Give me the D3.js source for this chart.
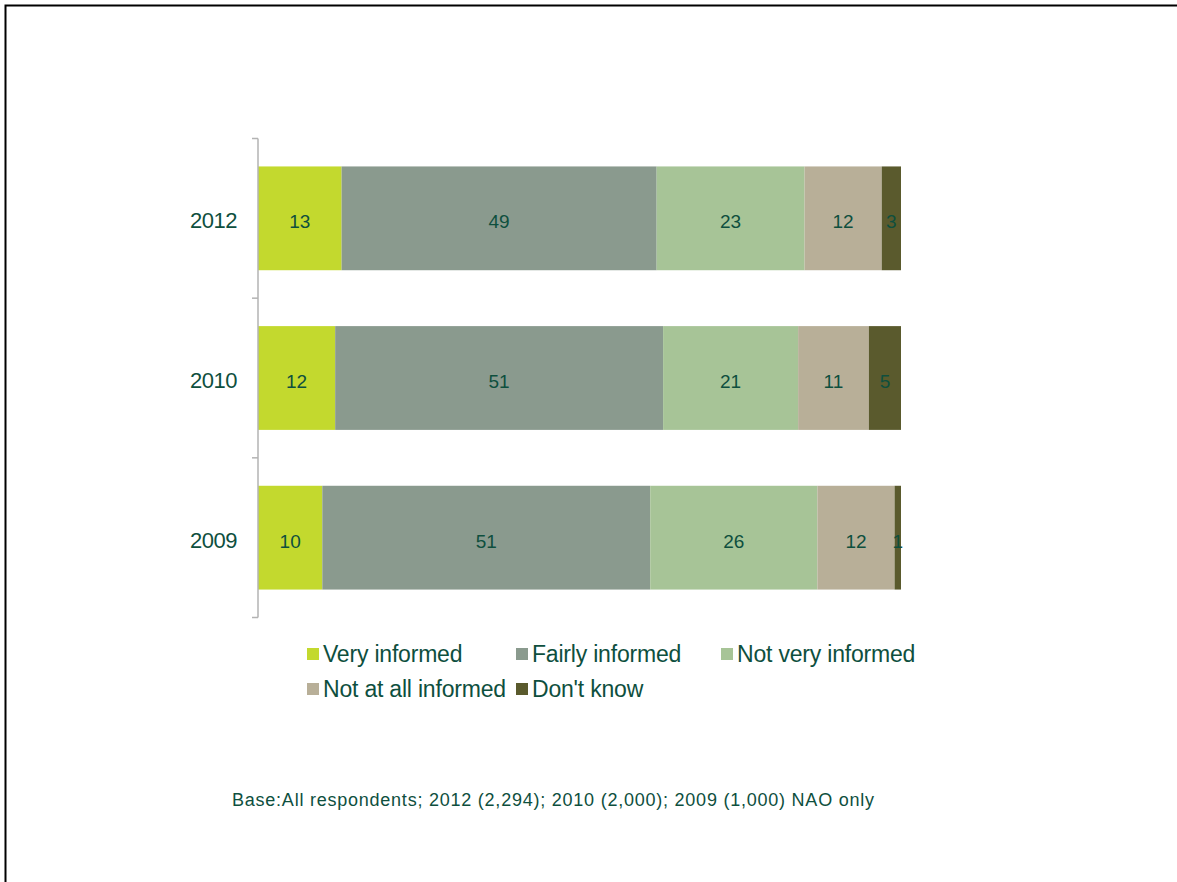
<!DOCTYPE html>
<html>
<head>
<meta charset="utf-8">
<script src="https://cdn.jsdelivr.net/npm/d3@7"></script>
<style>
  html, body { margin: 0; padding: 0; background: #fff; }
  svg { display: block; font-family: "Liberation Sans", Arial, sans-serif; }
</style>
</head>
<body>
<svg id="chart" width="1177" height="882"></svg>
<script>
const years = ["2012", "2010", "2009"];
const seriesNames = ["Very informed", "Fairly informed", "Not very informed", "Not at all informed", "Don't know"];
const veryInformed = [13, 12, 10];
const fairlyInformed = [49, 51, 51];
const notVeryInformed = [23, 21, 26];
const notAtAllInformed = [12, 11, 12];
const dontKnow = [3, 5, 1];
const colors = ["#c3d92e", "#8a9a8e", "#a7c497", "#b8af98", "#5a5a2d"];
const footnote = "Base:All respondents; 2012 (2,294); 2010 (2,000); 2009 (1,000) NAO only";

const textColor = "#0e4f3e";
const svg = d3.select("#chart");

// frame (top and left visible)
svg.append("rect").attr("x", 5.5).attr("y", 5.5).attr("width", 1300).attr("height", 1000)
  .attr("fill", "none").attr("stroke", "#000").attr("stroke-width", 2);

const table = years.map((y, i) => ({
  year: y,
  values: [veryInformed[i], fairlyInformed[i], notVeryInformed[i], notAtAllInformed[i], dontKnow[i]]
}));

const x = d3.scaleLinear().domain([0, 100]).range([258, 901]);
const y = d3.scaleBand().domain(years).range([138.5, 617.5]).paddingInner(0.35).paddingOuter(0.175);

const stackData = table.map(d => {
  const o = { year: d.year };
  seriesNames.forEach((s, k) => o[s] = d.values[k]);
  return o;
});
const stacked = d3.stack().keys(seriesNames)(stackData);

const g = svg.append("g");
stacked.forEach((layer, k) => {
  const lg = g.append("g");
  lg.selectAll("rect").data(layer).join("rect")
    .attr("x", d => x(d[0]))
    .attr("y", d => y(d.data.year))
    .attr("width", d => x(d[1]) - x(d[0]))
    .attr("height", y.bandwidth())
    .attr("fill", colors[k]);
  lg.selectAll("text").data(layer).join("text")
    .attr("x", d => (x(d[0]) + x(d[1])) / 2)
    .attr("y", d => y(d.data.year) + y.bandwidth() / 2 + 3)
    .attr("dy", "0.36em")
    .attr("text-anchor", "middle")
    .attr("font-size", 19)
    .attr("fill", textColor)
    .text(d => d[1] - d[0]);
});

// axis
const axisX = 258;
const step = y.step();
const boundaries = years.map(yr => y(yr) - step * y.paddingInner() / 2);
boundaries.push(y(years[years.length - 1]) + y.bandwidth() + step * y.paddingInner() / 2);
const ax = svg.append("g").attr("stroke", "#b3b3b3").attr("stroke-width", 1.5);
ax.append("line").attr("x1", axisX).attr("x2", axisX)
  .attr("y1", boundaries[0]).attr("y2", boundaries[boundaries.length - 1]);
ax.selectAll("line.tick").data(boundaries).join("line").attr("class", "tick")
  .attr("x1", axisX - 6).attr("x2", axisX).attr("y1", d => d).attr("y2", d => d);

svg.append("g").selectAll("text").data(years).join("text")
  .attr("x", 237)
  .attr("y", d => y(d) + y.bandwidth() / 2 + 2)
  .attr("dy", "0.36em")
  .attr("text-anchor", "end")
  .attr("font-size", 22)
  .attr("letter-spacing", -0.5)
  .attr("fill", textColor)
  .text(d => d);

// legend
const colX = [307, 516, 721];
const rowY = [654, 689];
const leg = svg.append("g").selectAll("g").data(seriesNames).join("g")
  .attr("transform", (d, i) => {
    const r = i < 3 ? 0 : 1;
    const c = i < 3 ? i : i - 3;
    return `translate(${colX[c]},${rowY[r]})`;
  });
leg.append("rect").attr("x", 0).attr("y", -6).attr("width", 12).attr("height", 12)
  .attr("fill", (d, i) => colors[i]);
leg.append("text").attr("x", 16).attr("y", 0).attr("dy", "0.36em")
  .attr("font-size", 23).attr("fill", textColor).attr("letter-spacing", -0.2)
  .text(d => d);

// footnote
svg.append("text").attr("x", 232).attr("y", 800).attr("dy", "0.36em")
  .attr("font-size", 18).attr("fill", textColor)
  .attr("textLength", 642).attr("lengthAdjust", "spacing")
  .text(footnote);
</script>
</body>
</html>
